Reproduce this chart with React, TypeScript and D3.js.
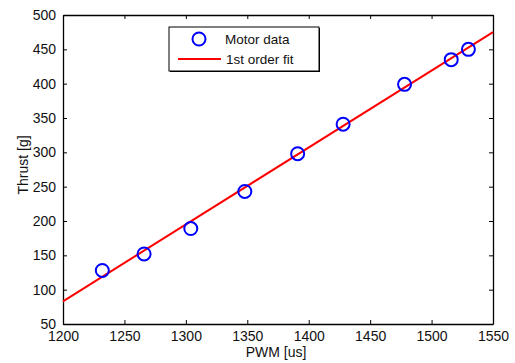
import { useEffect, useRef } from 'react';
import * as d3 from 'd3';

// measured points
const pwm = [1232, 1266, 1304, 1348, 1391, 1428, 1478, 1516, 1530];
const thrust = [128, 152, 189, 243, 298, 341, 399, 435, 450];

// 1st order fit end points
const fitPwm = [1200, 1550];
const fitThrust = [83, 475];

const xTicks = [1200, 1250, 1300, 1350, 1400, 1450, 1500, 1550];
const yTicks = [50, 100, 150, 200, 250, 300, 350, 400, 450, 500];

const App = () => {
    const svgRef = useRef<SVGSVGElement>(null);

    useEffect(() => {
        const width = 515;
        const height = 363;
        const m = { left: 63, right: 22, top: 15, bottom: 39 };

        const root = d3.select(svgRef.current);
        root.selectAll('*').remove();
        root.attr('width', width).attr('height', height);

        const svg = root.append('g');
        const font = 'Liberation Sans, Arial, sans-serif';
        const fmt = d3.format('d');

        const x = d3.scaleLinear().domain([1200, 1550]).range([m.left, width - m.right]);
        const y = d3.scaleLinear().domain([50, 500]).range([height - m.bottom, m.top]);

        svg.append('rect')
            .attr('x', 0).attr('y', 0)
            .attr('width', width).attr('height', height)
            .attr('fill', 'white');

        // ==========================================
        // AXES (box with inward ticks)
        // ==========================================
        const tick = 4;
        const bottom = svg.append('g')
            .attr('transform', `translate(0,${y(50)})`)
            .call(d3.axisBottom(x).tickValues(xTicks).tickFormat((d) => fmt(d as number)).tickSizeInner(-tick).tickSizeOuter(0).tickPadding(7));
        const top = svg.append('g')
            .attr('transform', `translate(0,${y(500)})`)
            .call(d3.axisTop(x).tickValues(xTicks).tickSizeInner(-tick).tickSizeOuter(0).tickFormat(() => ''));
        const left = svg.append('g')
            .attr('transform', `translate(${x(1200)},0)`)
            .call(d3.axisLeft(y).tickValues(yTicks).tickFormat((d) => fmt(d as number)).tickSizeInner(-tick).tickSizeOuter(0).tickPadding(7));
        const right = svg.append('g')
            .attr('transform', `translate(${x(1550)},0)`)
            .call(d3.axisRight(y).tickValues(yTicks).tickSizeInner(-tick).tickSizeOuter(0).tickFormat(() => ''));

        [bottom, top, left, right].forEach((g) => {
            g.select('.domain').attr('stroke', '#000').attr('stroke-width', 1.3);
            g.selectAll('.tick line').attr('stroke', '#000');
            g.selectAll('text')
                .attr('font-family', font)
                .attr('font-size', 14)
                .attr('fill', '#111');
        });

        // ==========================================
        // FIT LINE
        // ==========================================
        const fit = fitPwm.map((p, i) => [p, fitThrust[i]] as [number, number]);
        svg.append('path')
            .datum(fit)
            .attr('d', d3.line<[number, number]>().x((d) => x(d[0])).y((d) => y(d[1])))
            .attr('fill', 'none')
            .attr('stroke', '#ff0000')
            .attr('stroke-width', 2);

        // ==========================================
        // DATA POINTS
        // ==========================================
        svg.selectAll('circle.pt')
            .data(pwm)
            .enter()
            .append('circle')
            .attr('class', 'pt')
            .attr('cx', (d) => x(d))
            .attr('cy', (d, i) => y(thrust[i]))
            .attr('r', 6.5)
            .attr('fill', 'none')
            .attr('stroke', '#0000ff')
            .attr('stroke-width', 2);

        // ==========================================
        // LABELS
        // ==========================================
        svg.append('text')
            .attr('x', 276)
            .attr('y', 357)
            .attr('text-anchor', 'middle')
            .attr('font-family', font)
            .attr('font-size', 14)
            .attr('fill', '#111')
            .text('PWM [us]');

        svg.append('text')
            .attr('transform', `translate(28,165) rotate(-90)`)
            .attr('text-anchor', 'middle')
            .attr('font-family', font)
            .attr('font-size', 14)
            .attr('fill', '#111')
            .text('Thrust [g]');

        // ==========================================
        // LEGEND
        // ==========================================
        const lg = svg.append('g').attr('transform', 'translate(169,27)');
        lg.append('rect')
            .attr('x', 1).attr('y', 1)
            .attr('width', 150).attr('height', 44)
            .attr('fill', '#000');
        lg.append('rect')
            .attr('width', 150).attr('height', 44)
            .attr('fill', 'white')
            .attr('stroke', '#000')
            .attr('stroke-width', 1);
        lg.append('circle')
            .attr('cx', 30).attr('cy', 12)
            .attr('r', 6.5)
            .attr('fill', 'none')
            .attr('stroke', '#0000ff')
            .attr('stroke-width', 2);
        lg.append('line')
            .attr('x1', 9).attr('x2', 52)
            .attr('y1', 32).attr('y2', 32)
            .attr('stroke', '#ff0000')
            .attr('stroke-width', 2);
        lg.append('text')
            .attr('x', 56).attr('y', 17)
            .attr('font-family', font)
            .attr('font-size', 13.5)
            .attr('fill', '#111')
            .text('Motor data');
        lg.append('text')
            .attr('x', 57).attr('y', 37)
            .attr('font-family', font)
            .attr('font-size', 13.5)
            .attr('fill', '#111')
            .text('1st order fit');
    }, []);

    return <svg ref={svgRef} style={{ position: 'absolute', left: 0, top: 0 }}></svg>;
};

export default App;
